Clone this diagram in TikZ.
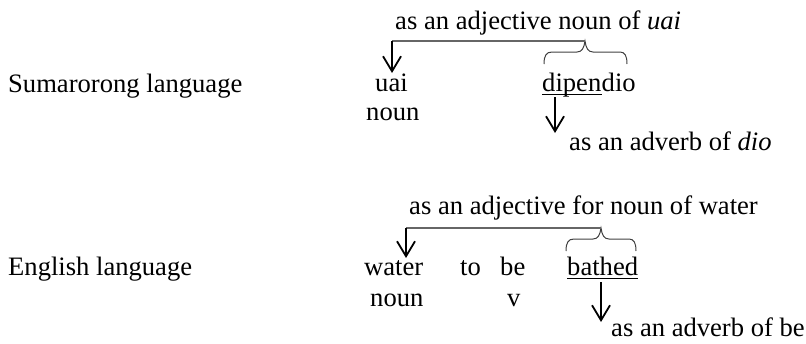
\documentclass[tikz,border=0pt]{standalone}
\usepackage{fontspec}
\setmainfont{Liberation Serif}
\usetikzlibrary{arrows.meta}
\begin{document}
\begin{tikzpicture}[x=1pt,y=-1pt,
  txt/.style={inner sep=0pt,anchor=base west,font=\fontsize{26.6}{32}\selectfont},
  link/.style={draw=black!60,line width=1.3pt},
  brc/.style={draw=black!75,line width=1pt},
  uline/.style={draw=black,line width=1.4pt},
  down/.style={draw=black,line width=1.8pt,-{Straight Barb[length=15pt,width=18pt,line width=1.8pt]}}]
\useasboundingbox (0,0) rectangle (806,343);

% ---- Sumarorong ----
\node[txt] (sumL) at (8,92) {Sumarorong language};
\node[txt] (lab1) at (395,29) {as an adjective noun of \textit{uai}};
\node[txt] (uai) at (375,91) {uai};
\node[txt] (uaiN) at (366,120) {noun};
\node[txt] (dipen) at (542,91) {dipen};
\node[txt] (dio) at (dipen.base east) {dio};
\node[txt] (adv1) at (569,150) {as an adverb of \textit{dio}};

\coordinate (b1tip) at (585,41);
\coordinate (a1top) at (392,41);
\coordinate (a1end) at (392,73);
\coordinate (a2top) at (555,97);
\coordinate (a2end) at (555,133);

\draw[uline] ([yshift=-3.5pt]dipen.base west) -- ([yshift=-3.5pt]dipen.base east);
\draw[brc] (544,64) .. controls (544,56) and (546,52) .. (552,52)
  -- (577,52) .. controls (582,52) and (584,48) .. (b1tip)
  .. controls (586,48) and (588,52) .. (593,52)
  -- (620,52) .. controls (625,52) and (627,56) .. (627,64);
\draw[link] (b1tip) -- (a1top);
\draw[down] (a1top) -- (a1end);
\draw[down] (a2top) -- (a2end);

% ---- English ----
\node[txt] (engL) at (8,275) {English language};
\node[txt] (lab2) at (409,214) {as an adjective for noun of water};
\node[txt] (water) at (364,275) {water};
\node[txt] (waterN) at (370,306) {noun};
\node[txt] (to) at (460,275) {to};
\node[txt] (be) at (500,275) {be};
\node[txt] (beV) at (507,306) {v};
\node[txt] (bathed) at (567,275) {bathed};
\node[txt] (adv2) at (611,336) {as an adverb of be};

\coordinate (b2tip) at (601,228);
\coordinate (a3top) at (406,228);
\coordinate (a3end) at (406,258);
\coordinate (a4top) at (601,282);
\coordinate (a4end) at (601,322);

\draw[uline] ([yshift=-3.5pt]bathed.base west) -- ([yshift=-3.5pt]bathed.base east);
\draw[brc] (566,251) .. controls (566,243) and (568,239) .. (574,239)
  -- (593,239) .. controls (598,239) and (600,235) .. (b2tip)
  .. controls (602,235) and (604,239) .. (609,239)
  -- (629,239) .. controls (634,239) and (636,243) .. (636,251);
\draw[link] (b2tip) -- (a3top);
\draw[down] (a3top) -- (a3end);
\draw[down] (a4top) -- (a4end);
\end{tikzpicture}
\end{document}
